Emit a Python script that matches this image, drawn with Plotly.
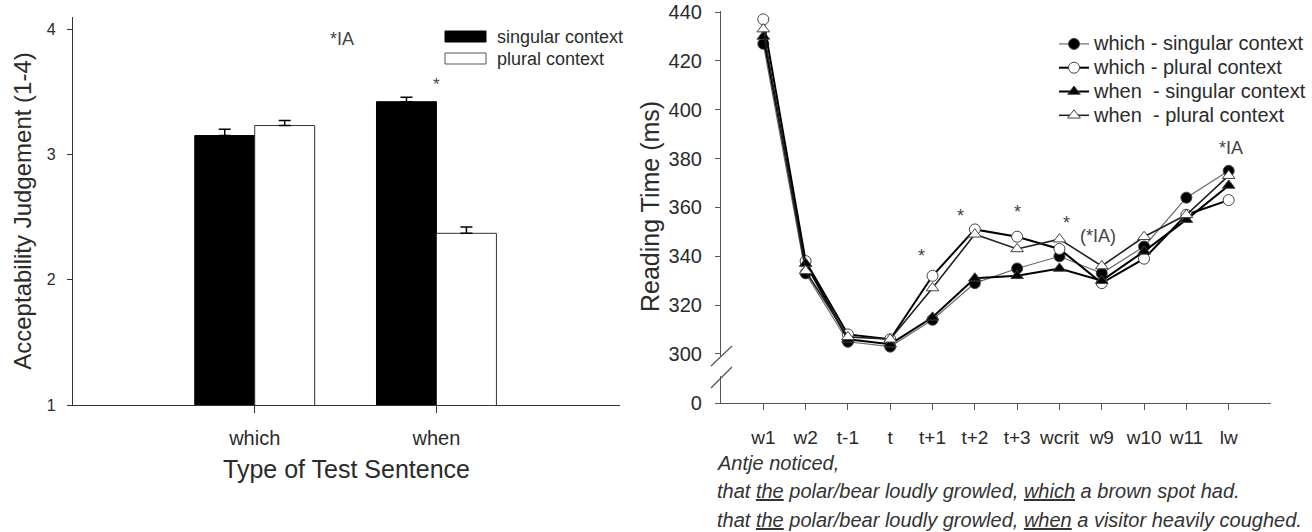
import plotly.graph_objects as go

W, H = 1312, 532

# ---------------- data ----------------
sent_types = ["which", "when"]
accept_singular = [3.15, 3.42]
accept_plural = [3.23, 2.37]
err_singular = [0.05, 0.035]
err_plural = [0.04, 0.05]

regions = ["w1", "w2", "t-1", "t", "t+1", "t+2", "t+3", "wcrit", "w9", "w10", "w11", "lw"]
which_singular = [427, 333, 305, 303, 314, 329, 335, 340, 333, 344, 364, 375]
which_plural = [437, 338, 308, 306, 332, 351, 348, 343, 329, 339, 357, 363]
when_singular = [430, 337, 306, 304, 315, 331, 332, 335, 330, 342, 355, 369]
when_plural = [433, 334, 307, 306, 327, 349, 343, 347, 336, 348, 357, 373]

left_ticks = [1, 2, 3, 4]
right_ticks = [300, 320, 340, 360, 380, 400, 420, 440]


def fx(p):
    return p / W


def fy(p):
    return 1 - p / H


FONT = "Liberation Sans, Arial, sans-serif"
TXT = "#2b2b2b"

fig = go.Figure()

# ---------------- left: bar chart ----------------
fig.add_trace(go.Bar(
    x=sent_types, y=accept_singular, name="singular context",
    marker=dict(color="black", line=dict(color="black", width=1)),
    error_y=dict(type="data", array=err_singular, arrayminus=[0] * len(err_singular),
                 symmetric=False, color="black", thickness=1.5, width=6),
    xaxis="x", yaxis="y", showlegend=False,
))
fig.add_trace(go.Bar(
    x=sent_types, y=accept_plural, name="plural context",
    marker=dict(color="white", line=dict(color="#333333", width=1)),
    error_y=dict(type="data", array=err_plural, arrayminus=[0] * len(err_plural),
                 symmetric=False, color="black", thickness=1.5, width=6),
    xaxis="x", yaxis="y", showlegend=False,
))

# ---------------- right: line chart ----------------
series = [
    ("which - singular context", which_singular, "circle", "black", "#6a6a6a", 1.2),
    ("which - plural context", which_plural, "circle", "white", "black", 2.0),
    ("when  - singular context", when_singular, "triangle-up", "black", "black", 2.0),
    ("when  - plural context", when_plural, "triangle-up", "white", "#222222", 1.6),
]
for name, vals, sym, fill, lcol, lw in series:
    fig.add_trace(go.Scatter(
        x=regions, y=vals,
        name='<span style="font-size:20px">' + name.replace("  ", "\u00a0\u00a0") + "</span>",
        mode="lines+markers",
        line=dict(color=lcol, width=lw),
        marker=dict(symbol=sym, size=11, color=fill,
                    line=dict(color="#444444", width=1)),
        xaxis="x2", yaxis="y2", showlegend=True,
    ))

# empty trace so the lower (broken) part of the y axis is drawn
fig.add_trace(go.Scatter(x=[], y=[], xaxis="x2", yaxis="y3", mode="markers",
                         showlegend=False, hoverinfo="skip"))

axis_common = dict(showgrid=False, zeroline=False, ticks="outside",
                   automargin=False, mirror=False)

fig.update_layout(
    width=W, height=H,
    margin=dict(l=0, r=0, t=0, b=0),
    paper_bgcolor="white", plot_bgcolor="white",
    font=dict(family=FONT, color=TXT),
    barmode="group", bargap=0.34, bargroupgap=0,
    xaxis=dict(**axis_common, domain=[fx(73), fx(620)], anchor="y",
               type="category", categoryarray=sent_types, range=[-1, 2.01],
               showline=True, linecolor="#333", linewidth=1.2,
               ticklen=7, tickcolor="#333", tickfont=dict(size=20),
               ticklabelstandoff=8,
               title=dict(text="Type of Test Sentence", font=dict(size=25), standoff=12)),
    yaxis=dict(**axis_common, domain=[fy(405), fy(17)], anchor="x",
               range=[1, 4.096], tickvals=left_ticks,
               showline=True, linecolor="#333", linewidth=1.2,
               ticklen=5, tickcolor="#333", tickfont=dict(size=16),
               ticklabelstandoff=8,
               title=dict(text="Acceptability Judgement (1-4)", font=dict(size=24), standoff=8)),
    xaxis2=dict(**axis_common, domain=[fx(721), fx(1271)], anchor="y3",
                type="category", categoryarray=regions, range=[-1, 12],
                showline=True, linecolor="#555", linewidth=1.2,
                ticklen=6, tickcolor="#555", tickfont=dict(size=19),
                ticklabelstandoff=11),
    yaxis2=dict(**axis_common, domain=[fy(356.4), fy(10.8)], anchor="x2",
                range=[299, 440.5], tickvals=right_ticks,
                showline=True, linecolor="#555", linewidth=1.2,
                ticklen=5, tickcolor="#555", tickfont=dict(size=20),
                ticklabelstandoff=9),
    yaxis3=dict(**axis_common, domain=[fy(403), fy(376)], anchor="x2",
                range=[0, 10], tickvals=[0],
                showline=True, linecolor="#555", linewidth=1.2,
                ticklen=5, tickcolor="#555", tickfont=dict(size=20),
                ticklabelstandoff=9),
    legend=dict(x=fx(1054), y=fy(27), xanchor="left", yanchor="top",
                font=dict(size=16, color=TXT), bgcolor="rgba(0,0,0,0)",
                borderwidth=0, tracegroupgap=0, itemwidth=30),
)

# axis break marks
for y0, y1 in [(366, 346), (388, 367)]:
    fig.add_shape(type="line", xref="paper", yref="paper",
                  x0=fx(711), y0=fy(y0), x1=fx(732), y1=fy(y1),
                  line=dict(color="#555", width=1.2))

# left legend (rectangular swatches)
fig.add_shape(type="rect", xref="paper", yref="paper",
              x0=fx(445), x1=fx(486), y0=fy(42), y1=fy(31),
              fillcolor="black", line=dict(color="black", width=1))
fig.add_shape(type="rect", xref="paper", yref="paper",
              x0=fx(445), x1=fx(486), y0=fy(64), y1=fy(53),
              fillcolor="white", line=dict(color="#555", width=1))

ann = []
ann.append(dict(text="singular context", x=fx(495), y=fy(37), xref="paper", yref="paper",
                xanchor="left", yanchor="middle", showarrow=False, font=dict(size=18)))
ann.append(dict(text="plural context", x=fx(495), y=fy(59), xref="paper", yref="paper",
                xanchor="left", yanchor="middle", showarrow=False, font=dict(size=18)))
# right y-axis title, centred over the whole (broken) axis
ann.append(dict(text="Reading Time (ms)", x=fx(650), y=fy(207), xref="paper", yref="paper",
                textangle=-90, showarrow=False, font=dict(size=25)))
# left significance notes
ann.append(dict(text="*IA", x=0.48, y=3.92, xref="x", yref="y", showarrow=False,
                font=dict(size=18, color="#444")))
ann.append(dict(text="*", x=1.0, y=3.56, xref="x", yref="y", showarrow=False,
                font=dict(size=17, color="#444")))
# right significance notes
for t, xv, yv in [("*", 3.75, 340), ("*", 4.67, 356.5), ("*", 6.0, 358),
                  ("*", 7.17, 353.5), ("(*IA)", 7.9, 348.5), ("*IA", 11.05, 384.5)]:
    ann.append(dict(text=t, x=xv, y=yv, xref="x2", yref="y2", showarrow=False,
                    font=dict(size=18, color="#444")))
# sentence under the right chart
lines = [
    ("<i>Antje noticed,</i>", 463),
    ("<i>that <u>the</u> polar/bear loudly growled, <u>which</u> a brown spot had.</i>", 491),
    ("<i>that <u>the</u> polar/bear loudly growled, <u>when</u> a visitor heavily coughed.</i>", 520),
]
for t, yp in lines:
    ann.append(dict(text=t, x=fx(715), y=fy(yp), xref="paper", yref="paper",
                    xanchor="left", yanchor="middle", showarrow=False,
                    font=dict(size=20, color="#333")))
fig.update_layout(annotations=ann)

fig.write_html("out.html")
